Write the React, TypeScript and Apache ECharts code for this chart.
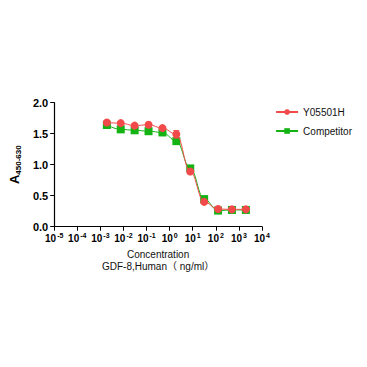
import React, { useEffect, useRef } from "react";
import * as echarts from "echarts";

const concentrations = [0.00191, 0.00763, 0.0305, 0.122, 0.488, 1.953, 7.81, 31.25, 125, 500, 2000];
const y05501h = [1.68, 1.67, 1.63, 1.645, 1.59, 1.49, 0.89, 0.40, 0.285, 0.28, 0.28];
const y05501hErr = [0.03, 0.02, 0.02, 0.015, 0.02, 0.06, 0.02, 0.02, 0.01, 0.01, 0.01];
const competitor = [1.64, 1.57, 1.555, 1.54, 1.52, 1.38, 0.94, 0.445, 0.26, 0.27, 0.27];
const competitorErr = [0.02, 0.02, 0.02, 0.02, 0.02, 0.02, 0.02, 0.02, 0.01, 0.01, 0.01];
const yTicks = [0, 0.5, 1.0, 1.5, 2.0];

const RED = "#F24A4A";
const GREEN = "#12B312";
const FONT = "'Liberation Sans', Arial, 'Noto Sans CJK SC', sans-serif";

function pairs(ys: number[]) {
  return ys.map((v, i) => [concentrations[i], v]);
}
function errData(ys: number[], es: number[]) {
  return ys.map((v, i) => [concentrations[i], v - es[i], v + es[i]]);
}

function errorSeries(ys: number[], es: number[], color: string, z: number) {
  return {
    type: "custom",
    silent: true,
    z,
    renderItem: (_params: any, api: any) => {
      const x = api.value(0);
      const lo = api.coord([x, api.value(1)]);
      const hi = api.coord([x, api.value(2)]);
      const w = 3;
      return {
        type: "group",
        children: [
          { type: "line", shape: { x1: lo[0], y1: lo[1], x2: hi[0], y2: hi[1] }, style: { stroke: color, lineWidth: 1 } },
          { type: "line", shape: { x1: lo[0] - w, y1: lo[1], x2: lo[0] + w, y2: lo[1] }, style: { stroke: color, lineWidth: 1 } },
          { type: "line", shape: { x1: hi[0] - w, y1: hi[1], x2: hi[0] + w, y2: hi[1] }, style: { stroke: color, lineWidth: 1 } },
        ],
      };
    },
    encode: { x: 0, y: [1, 2] },
    data: errData(ys, es),
  };
}

export default function App() {
  const ref = useRef<HTMLDivElement>(null);
  useEffect(() => {
    if (!ref.current) return;
    const chart = echarts.init(ref.current, undefined, { renderer: "svg" });
    chart.setOption({
      animation: false,
      backgroundColor: "#fff",
      textStyle: { fontFamily: FONT },
      grid: { left: 52, right: 105, top: 102.7, bottom: 140.3, containLabel: false },
      legend: {
        right: 10,
        top: 102,
        orient: "vertical",
        itemWidth: 22,
        itemHeight: 7,
        itemGap: 9,
        textStyle: { fontSize: 10, color: "#111", fontFamily: FONT },
        data: ["Y05501H", "Competitor"],
      },
      xAxis: {
        type: "log",
        logBase: 10,
        min: 1e-5,
        max: 1e4,
        splitLine: { show: false },
        axisLine: { lineStyle: { color: "#000", width: 1.2 } },
        axisTick: { inside: false, length: 4, lineStyle: { color: "#000" } },
        minorTick: { show: false },
        axisLabel: {
          margin: 5,
          formatter: (v: number) => {
            const e = Math.round(Math.log10(v));
            return "{b|10}{s|" + e + "}";
          },
          rich: {
            b: { fontSize: 10, fontWeight: "bold", color: "#000", fontFamily: FONT },
            s: { fontSize: 7, fontWeight: "bold", color: "#000", fontFamily: FONT, padding: [0, 0, 6, 1] },
          },
        },
        name: "Concentration\nGDF-8,Human（ ng/ml）",
        nameLocation: "middle",
        nameGap: 22,
        nameTextStyle: { fontSize: 10, color: "#111", lineHeight: 12, fontFamily: FONT },
      },
      yAxis: {
        type: "value",
        min: yTicks[0],
        max: yTicks[yTicks.length - 1],
        interval: 0.5,
        splitLine: { show: false },
        axisLine: { show: true, lineStyle: { color: "#000", width: 1.2 } },
        axisTick: { show: true, inside: false, length: 4, lineStyle: { color: "#000" } },
        axisLabel: {
          margin: 6,
          fontSize: 11,
          fontWeight: "bold",
          color: "#000",
          formatter: (v: number) => v.toFixed(1),
        },
        name: "{a|A}{s|450-630}",
        nameLocation: "middle",
        nameGap: 25,
        nameRotate: 90,
        nameTextStyle: {
          rich: {
            a: { fontSize: 13, fontWeight: "bold", color: "#000", fontFamily: FONT },
            s: { fontSize: 8, fontWeight: "bold", color: "#000", fontFamily: FONT, padding: [7, 0, 0, 0] },
          },
        },
      },
      series: [
        errorSeries(competitor, competitorErr, GREEN, 1),
        {
          name: "Competitor",
          type: "line",
          smooth: 0.4,
          smoothMonotone: "x",
          data: pairs(competitor),
          symbol: "rect",
          symbolSize: 8,
          itemStyle: { color: GREEN },
          lineStyle: { color: GREEN, width: 1 },
          z: 2,
        },
        errorSeries(y05501h, y05501hErr, RED, 3),
        {
          name: "Y05501H",
          type: "line",
          smooth: 0.4,
          smoothMonotone: "x",
          data: pairs(y05501h),
          symbol: "circle",
          symbolSize: 8,
          itemStyle: { color: RED },
          lineStyle: { color: RED, width: 1 },
          z: 4,
        },
      ],
    });
    return () => chart.dispose();
  }, []);
  return <div ref={ref} style={{ position: "absolute", left: 0, top: 0, width: 367, height: 367 }} />;
}
